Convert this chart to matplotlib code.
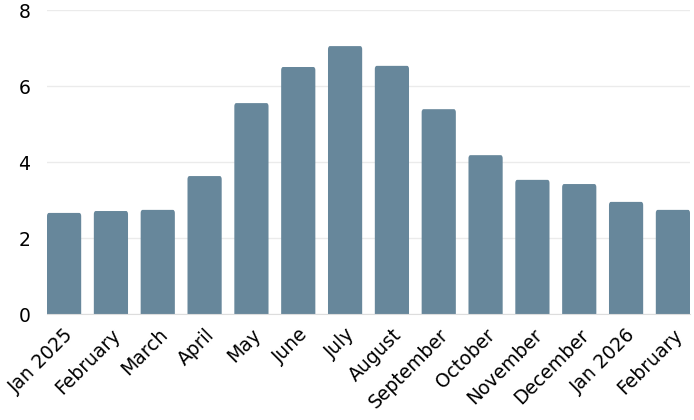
import matplotlib
matplotlib.use("Agg")
import matplotlib.pyplot as plt
from matplotlib.patches import FancyBboxPatch

months = ["Jan 2025", "February", "March", "April", "May", "June", "July",
          "August", "September", "October", "November", "December",
          "Jan 2026", "February"]
values = [2.66, 2.71, 2.74, 3.63, 5.55, 6.5, 7.05, 6.53, 5.39, 4.18,
          3.53, 3.42, 2.95, 2.74]

plt.rcParams['font.family'] = ['DejaVu Sans']

fig = plt.figure(figsize=(6.94, 4.2), dpi=100)
ax = fig.add_axes([47 / 694, 106 / 420, 643 / 694, 304 / 420])

w = 0.73
bars = ax.bar(range(len(values)), values, width=w, color="#67879b", zorder=2)

# swap bars for ones with slightly rounded tops (bottom hidden below 0)
for b in bars:
    x, bw, bh = b.get_x(), b.get_width(), b.get_height()
    b.set_visible(False)
    r = 0.04
    p = FancyBboxPatch((x + r, -0.5), bw - 2 * r, bh + 0.5 - r * 2.1,
                       boxstyle="round,pad=%f" % r, mutation_aspect=2.1,
                       facecolor="#67879b", edgecolor="none", zorder=2)
    ax.add_patch(p)

ax.set_xlim(-w / 2, len(values) - 1 + w / 2)
ax.set_ylim(0, 8)
ax.set_yticks([0, 2, 4, 6, 8])
ax.set_xticks(range(len(values)))
ax.set_xticklabels(months, rotation=45, ha="right", rotation_mode="anchor")
ax.tick_params(axis="both", length=0, labelsize=13.5, colors="black")
ax.tick_params(axis="y", pad=12)
ax.tick_params(axis="x", pad=8)

ax.grid(axis="y", color="#ebebeb", linewidth=1, zorder=0)
for s in ["top", "right", "left"]:
    ax.spines[s].set_visible(False)
ax.spines["bottom"].set_color("#dddddd")
ax.spines["bottom"].set_zorder(3)

fig.savefig("out.png", dpi=100)
